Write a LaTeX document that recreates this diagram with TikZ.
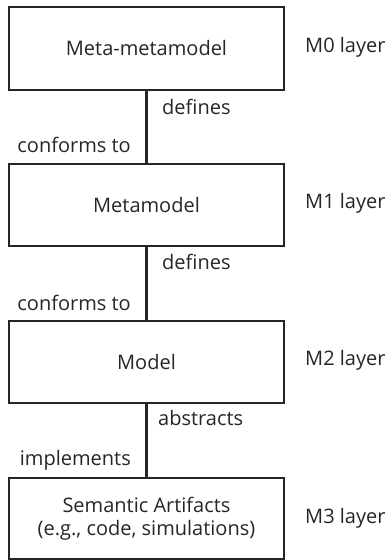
\documentclass[tikz,border=0pt]{standalone}
\usepackage{fontspec}
\setmainfont{Open Sans}
\begin{document}
\begin{tikzpicture}[x=1pt,y=-1pt,
  box/.style={draw=black!85, line width=1.6pt, minimum width=275pt, anchor=north, inner sep=0pt, align=center, text=black!85, font=\fontsize{20}{23}\selectfont},
  lbl/.style={text=black!85, font=\fontsize{20}{23}\selectfont, inner sep=0pt},
  conn/.style={draw=black!85, line width=2.4pt}]
\useasboundingbox (0,0) rectangle (387,560);
\node[box, minimum height=83pt] (b0) at (146.5,6) {Meta-metamodel};
\node[box, minimum height=82pt] (b1) at (146.5,163) {Metamodel};
\node[box, minimum height=82pt] (b2) at (146.5,320) {Model};
\node[box, minimum height=81pt] (b3) at (146.5,477) {Semantic Artifacts\\(e.g., code, simulations)};
\draw[conn] (b0.south) -- (b1.north);
\draw[conn] (b1.south) -- (b2.north);
\draw[conn] (b2.south) -- (b3.north);
\node[lbl, anchor=west] (d0) at (162,107) {defines};
\node[lbl, anchor=east] (c0) at (131,145) {conforms to};
\node[lbl, anchor=west] (d1) at (162,262) {defines};
\node[lbl, anchor=east] (c1) at (131,303) {conforms to};
\node[lbl, anchor=west] (a2) at (158,418) {abstracts};
\node[lbl, anchor=east] (i2) at (131,460) {implements};
\node[lbl, anchor=west] (m0) at (305,47) {M0 layer};
\node[lbl, anchor=west] (m1) at (305,203) {M1 layer};
\node[lbl, anchor=west] (m2) at (305,360) {M2 layer};
\node[lbl, anchor=west] (m3) at (305,518) {M3 layer};
\end{tikzpicture}
\end{document}
